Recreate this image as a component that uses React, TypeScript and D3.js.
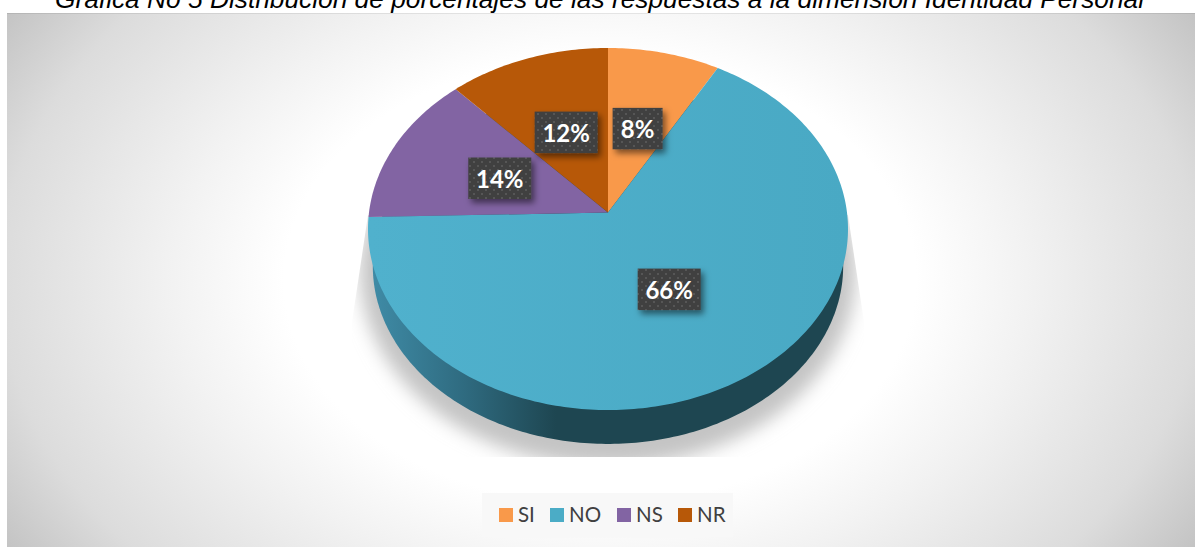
import React from 'react';
import * as d3 from 'd3';

const categories = ['SI', 'NO', 'NS', 'NR'];
const shares = [8.25, 66.35, 13.5, 11.9];
const shownLabels = ['8%', '66%', '14%', '12%'];
const labelRadii = [0.505, 0.48, 0.5, 0.5];
const colors = ['#f9994a', 'url(#noFace)', '#8264a3', '#b75808'];
const legendColors = ['#f9994a', '#4bacc6', '#8264a3', '#b75808'];
const title = 'Gráfica No 5 Distribución de porcentajes de las respuestas a la dimensión Identidad Personal';

const W = 1195, H = 547;
const apex = { x: 608, y: 212.5 };
const persp = 0.0912, radX = 239, radY = 179.5;

// perspective mapping from the unit disc to the tilted pie's top face
const project = (angle: number, r: number): [number, number] => {
  const u = Math.sin(angle) * r, v = -Math.cos(angle) * r;
  const w = 1 / (1 - persp * v);
  return [apex.x + radX * u * w, apex.y + radY * v * w];
};

const pieGen = d3.pie<number>().sort(null).value((d) => d);
const arcs = pieGen(shares);
const line = d3.line();
const color = d3.scaleOrdinal<string, string>().domain(categories).range(colors);
const samples = (a0: number, a1: number) => {
  const n = Math.max(8, Math.ceil((a1 - a0) * 60));
  return d3.range(n + 1).map((i) => a0 + ((a1 - a0) * i) / n);
};
const slicePath = (a0: number, a1: number) =>
  line([[apex.x, apex.y], ...samples(a0, a1).map((a) => project(a, 1))])! + 'Z';

const faceCy = 229;
const sidePath =
  line(
    samples(0, Math.PI * 2).map((a) => {
      const [x, y] = project(a, 1);
      return [apex.x + (x - apex.x) * 0.98, 266 + (y - faceCy) * 0.983] as [number, number];
    })
  )! + 'Z';

const legendX = d3.scaleOrdinal<string, number>().domain(categories).range([499, 550, 617, 678]);

export default function App() {
  return (
    <svg width={W} height={H} style={{ position: 'absolute', left: 0, top: 0, display: 'block' }}>
      <defs>
        <radialGradient id="bg" gradientUnits="userSpaceOnUse" cx={0} cy={0} r={1}
          gradientTransform="translate(600 280) scale(790 560)">
          <stop offset="0" stopColor="#ffffff" />
          <stop offset="0.4" stopColor="#ffffff" />
          <stop offset="0.54" stopColor="#f2f2f2" />
          <stop offset="0.76" stopColor="#dcdcdc" />
          <stop offset="0.92" stopColor="#bebebe" />
        </radialGradient>
        <linearGradient id="noFace" gradientUnits="userSpaceOnUse" x1={368} x2={848} y1={0} y2={0}>
          <stop offset="0" stopColor="#50b1cd" />
          <stop offset="1" stopColor="#49a9c4" />
        </linearGradient>
        <linearGradient id="side" gradientUnits="userSpaceOnUse" x1={372} x2={556} y1={0} y2={0}>
          <stop offset="0" stopColor="#3f8ba6" />
          <stop offset="0.5" stopColor="#2f6b80" />
          <stop offset="1" stopColor="#1e4651" />
        </linearGradient>
        <filter id="blurShadow" x="-20%" y="-20%" width="140%" height="140%">
          <feGaussianBlur stdDeviation="9" />
        </filter>
        <filter id="labelShadow" x="-30%" y="-30%" width="160%" height="160%">
          <feDropShadow dx="3" dy="4" stdDeviation="3" floodColor="#000" floodOpacity="0.5" />
        </filter>
        <clipPath id="shadowClip">
          <path d="M368,215 L352,322 L352,457 L864,457 L864,322 L848,215 Z" />
        </clipPath>
        <pattern id="dots" width={8} height={8} patternUnits="userSpaceOnUse">
          <rect width={8} height={8} fill="#404040" />
          <rect x={1} y={1} width={2} height={2} fill="#565656" />
          <rect x={5} y={5} width={2} height={2} fill="#565656" />
        </pattern>
      </defs>

      <rect x={0} y={0} width={W} height={H} fill="#ffffff" />
      <rect x={7} y={13} width={W - 7} height={H - 13} fill="url(#bg)" />
      <rect x={7} y={13} width={W - 7} height={1} fill="#000" opacity={0.08} />

      <text x={599.5} y={8} textAnchor="middle" fontFamily="'Liberation Sans', Arial, sans-serif"
        fontStyle="italic" fontSize={26.3} fill="#000">{title}</text>

      <g clipPath="url(#shadowClip)">
        <ellipse cx={608} cy={272} rx={248} ry={194} fill="#c4c4c4" filter="url(#blurShadow)" />
      </g>

      <path d={sidePath} fill="url(#side)" />
      {arcs.map((a, i) => (
        <path key={categories[i]} d={slicePath(a.startAngle, a.endAngle)} fill={color(categories[i])} />
      ))}

      {arcs.map((a, i) => {
        const [x, y] = project((a.startAngle + a.endAngle) / 2, labelRadii[i]);
        const label = shownLabels[i];
        const w = 24 + 13 * label.length, h = 41.5;
        return (
          <g key={label}>
            <rect x={x - w / 2} y={y - h / 2} width={w} height={h} fill="url(#dots)" filter="url(#labelShadow)" />
            <text x={x} y={y + 9.5} textAnchor="middle" fontFamily="Lato, sans-serif" fontWeight={700}
              fontSize={24} fill="#fff">{label}</text>
          </g>
        );
      })}

      <rect x={482} y={493} width={251} height={44.5} fill="#f8f8f8" />
      {categories.map((c, i) => (
        <g key={c}>
          <rect x={legendX(c)} y={508} width={14} height={14} fill={legendColors[i]} />
          <text x={legendX(c)! + 19} y={522} fontFamily="Lato, sans-serif" fontSize={20.5} fill="#404040">{c}</text>
        </g>
      ))}
    </svg>
  );
}
